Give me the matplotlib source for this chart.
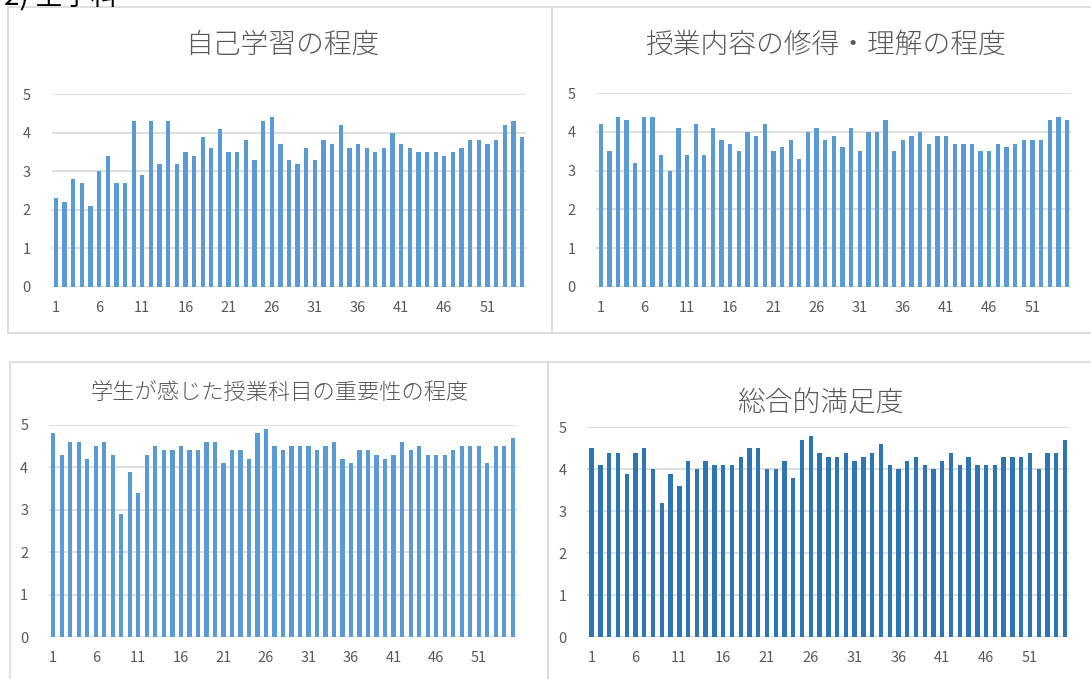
import numpy as np
import matplotlib
matplotlib.use("Agg")
import matplotlib.pyplot as plt
from matplotlib.patches import Rectangle

plt.rcParams['font.family'] = ['Noto Sans CJK JP', 'DejaVu Sans']

# course numbers 1..55 and the tick labels shown under each chart
courses = list(range(1, 56))
tick_labels = ["1", "6", "11", "16", "21", "26", "31", "36", "41", "46", "51"]

# 自己学習の程度
self_study = [2.3, 2.2, 2.8, 2.7, 2.1, 3.0, 3.4, 2.7, 2.7, 4.3,
              2.9, 4.3, 3.2, 4.3, 3.2, 3.5, 3.4, 3.9, 3.6, 4.1,
              3.5, 3.5, 3.8, 3.3, 4.3, 4.4, 3.7, 3.3, 3.2, 3.6,
              3.3, 3.8, 3.7, 4.2, 3.6, 3.7, 3.6, 3.5, 3.6, 4.0,
              3.7, 3.6, 3.5, 3.5, 3.5, 3.4, 3.5, 3.6, 3.8, 3.8,
              3.7, 3.8, 4.2, 4.3, 3.9]

# 授業内容の修得・理解の程度
understanding = [4.2, 3.5, 4.4, 4.3, 3.2, 4.4, 4.4, 3.4, 3.0, 4.1,
                 3.4, 4.2, 3.4, 4.1, 3.8, 3.7, 3.5, 4.0, 3.9, 4.2,
                 3.5, 3.6, 3.8, 3.3, 4.0, 4.1, 3.8, 3.9, 3.6, 4.1,
                 3.5, 4.0, 4.0, 4.3, 3.5, 3.8, 3.9, 4.0, 3.7, 3.9,
                 3.9, 3.7, 3.7, 3.7, 3.5, 3.5, 3.7, 3.6, 3.7, 3.8,
                 3.8, 3.8, 4.3, 4.4, 4.3]

# 学生が感じた授業科目の重要性の程度
importance = [4.8, 4.3, 4.6, 4.6, 4.2, 4.5, 4.6, 4.3, 2.9, 3.9,
              3.4, 4.3, 4.5, 4.4, 4.4, 4.5, 4.4, 4.4, 4.6, 4.6,
              4.1, 4.4, 4.4, 4.2, 4.8, 4.9, 4.5, 4.4, 4.5, 4.5,
              4.5, 4.4, 4.5, 4.6, 4.2, 4.1, 4.4, 4.4, 4.3, 4.2,
              4.3, 4.6, 4.4, 4.5, 4.3, 4.3, 4.3, 4.4, 4.5, 4.5,
              4.5, 4.1, 4.5, 4.5, 4.7]

# 総合的満足度
satisfaction = [4.5, 4.1, 4.4, 4.4, 3.9, 4.4, 4.5, 4.0, 3.2, 3.9,
                3.6, 4.2, 4.0, 4.2, 4.1, 4.1, 4.1, 4.3, 4.5, 4.5,
                4.0, 4.0, 4.2, 3.8, 4.7, 4.8, 4.4, 4.3, 4.3, 4.4,
                4.2, 4.3, 4.4, 4.6, 4.1, 4.0, 4.2, 4.3, 4.1, 4.0,
                4.2, 4.4, 4.1, 4.3, 4.1, 4.1, 4.1, 4.3, 4.3, 4.3,
                4.4, 4.0, 4.4, 4.4, 4.7]

W, H = 1091, 679
GRAY = "#595959"
GRID = "#d9d9d9"


def px_box(left, right, top, bottom):
    # pixel box (y from top) -> figure fraction rect
    return [left / W, 1 - bottom / H, (right - left) / W, (bottom - top) / H]


def draw_panel(fig, frame, plot_box, title, title_xy, title_size, values, color):
    # light gray frame around each chart like the Excel chart area
    fx0, fx1, fy0, fy1 = frame
    fig.patches.append(Rectangle((fx0 / W, 1 - fy1 / H), (fx1 - fx0) / W, (fy1 - fy0) / H,
                                 transform=fig.transFigure, fill=False,
                                 edgecolor=GRID, linewidth=1.2))

    fig.text(title_xy[0] / W, 1 - title_xy[1] / H, title, ha="center", va="center",
             fontsize=title_size, color=GRAY, fontweight="light")

    ax = fig.add_axes(px_box(*plot_box))
    ax.bar(courses, values, width=0.5, color=color, zorder=3)
    ax.set_xlim(0.5, 55.5)
    ax.set_ylim(0, 5)
    ax.set_yticks([0, 1, 2, 3, 4, 5])
    ax.set_xticks(courses[::5])
    ax.set_xticklabels(tick_labels)
    ax.yaxis.grid(True, color=GRID, linewidth=1.2, zorder=0)
    ax.set_axisbelow(True)
    for s in ax.spines.values():
        s.set_visible(False)
    ax.tick_params(axis="both", length=0, labelsize=10.5, labelcolor=GRAY)
    ax.tick_params(axis="y", pad=15)
    ax.tick_params(axis="x", pad=10)
    ax.set_facecolor("none")
    return ax


def main():
    fig = plt.figure(figsize=(W / 100, H / 100), dpi=100)

    # section heading, mostly cut off at the top edge
    fig.text(4 / W, 1 - 5 / H, "2) 全学科", ha="left", va="baseline",
             fontsize=20, color="black")

    draw_panel(fig, (8, 552, 7, 333), (51.7, 526.3, 94.3, 286.7),
               "自己学習の程度", (282, 45), 20, self_study, "#5B9BD5")
    draw_panel(fig, (552, 1100, 7, 333), (596.4, 1071.3, 93.3, 286.7),
               "授業内容の修得・理解の程度", (825, 45), 20, understanding, "#5B9BD5")
    draw_panel(fig, (10, 548, 362, 690), (49, 517, 425, 637.3),
               "学生が感じた授業科目の重要性の程度", (280, 393), 16, importance, "#5B9BD5")
    draw_panel(fig, (548, 1100, 362, 690), (587.3, 1069.4, 427.3, 637.3),
               "総合的満足度", (820, 403), 20, satisfaction, "#2E75B6")

    fig.savefig("out.png", dpi=100)


if __name__ == "__main__":
    main()
